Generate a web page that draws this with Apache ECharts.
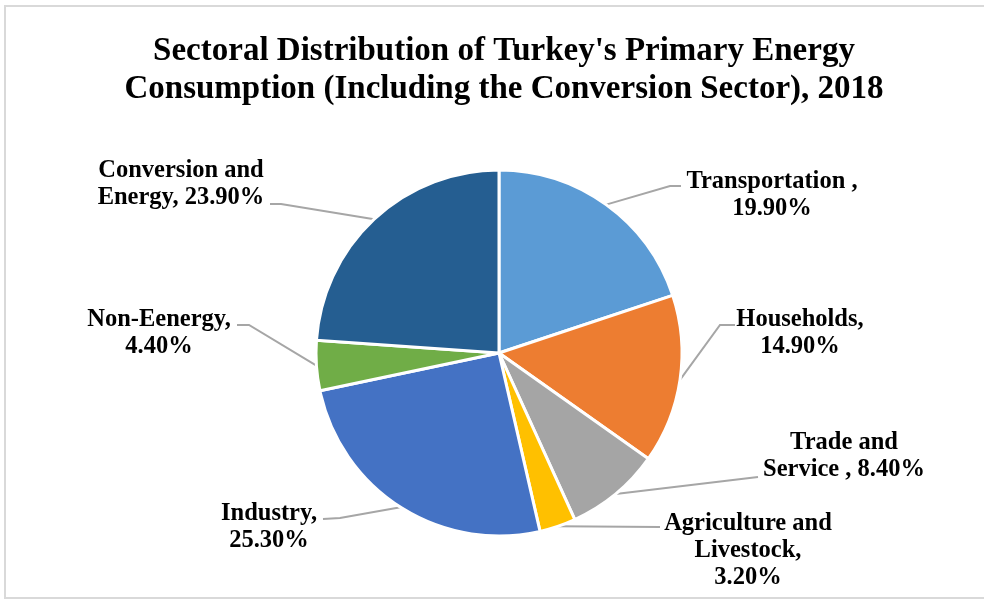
<!DOCTYPE html>
<html>
<head>
<meta charset="utf-8">
<script src="https://cdn.jsdelivr.net/npm/echarts@6/dist/echarts.min.js"></script>
<style>
  html, body { margin: 0; padding: 0; background: #fff; }
  #chart { width: 984px; height: 599px; }
</style>
</head>
<body>
<div id="chart"></div>
<script>
// Sectors of primary energy consumption, Turkey 2018 (share, %)
const sectors = ['Transportation', 'Households', 'Trade and Service', 'Agriculture and Livestock',
                 'Industry', 'Non-Eenergy', 'Conversion and Energy'];
const shares = [19.9, 14.9, 8.4, 3.2, 25.3, 4.4, 23.9];
// How each sector's label text is broken before the percentage
const labelPrefixes = ['Transportation ,\n', 'Households,\n', 'Trade and\nService , ',
                       'Agriculture and\nLivestock,\n', 'Industry,\n', 'Non-Eenergy,\n',
                       'Conversion and\nEnergy, '];
const sliceColors = ['#5B9BD5', '#ED7D31', '#A5A5A5', '#FFC000', '#4472C4', '#70AD47', '#255E91'];

// Label block placement: centre x, top y, leader elbow and end
const labelPlacement = [
  { x: 772, y: 168, elbow: [670, 186], end: [681, 186] },
  { x: 800, y: 306, elbow: [720, 325], end: [735, 325] },
  { x: 844, y: 429, elbow: null,       end: [758, 477] },
  { x: 748, y: 510, elbow: null,       end: [660, 527] },
  { x: 269, y: 500, elbow: [340, 518], end: [323, 519] },
  { x: 159, y: 306, elbow: [249, 325], end: [237, 325] },
  { x: 181, y: 157, elbow: [281, 204], end: [270, 204] }
];

const chart = echarts.init(document.getElementById('chart'), null, { renderer: 'canvas' });

const serif = '"Liberation Serif", "Times New Roman", serif';

chart.setOption({
  backgroundColor: '#ffffff',
  animation: false,
  title: {
    text: "Sectoral Distribution of Turkey's Primary Energy\nConsumption (Including the Conversion Sector), 2018",
    left: 499,
    textAlign: 'center',
    top: 27,
    textStyle: {
      fontFamily: serif,
      fontWeight: 'bold',
      fontSize: 33,
      lineHeight: 38,
      color: '#000000',
      align: 'center'
    }
  },
  graphic: [{
    type: 'rect',
    silent: true,
    shape: { x: 5, y: 6, width: 1000, height: 592 },
    style: { fill: 'none', stroke: '#d9d9d9', lineWidth: 2 }
  }],
  series: [{
    type: 'pie',
    center: [499, 353],
    radius: 183,
    startAngle: 90,
    clockwise: true,
    avoidLabelOverlap: false,
    data: sectors.map((name, i) => ({
      name: name,
      value: shares[i],
      itemStyle: { color: sliceColors[i] }
    })),
    itemStyle: { borderColor: '#ffffff', borderWidth: 3 },
    label: {
      show: true,
      position: 'outside',
      formatter: (p) => labelPrefixes[p.dataIndex] + p.value.toFixed(2) + '%',
      fontFamily: serif,
      fontWeight: 'bold',
      fontSize: 24.5,
      lineHeight: 27,
      color: '#000000',
      align: 'center'
    },
    labelLine: {
      show: true,
      length: 20,
      length2: 20,
      lineStyle: { color: '#a6a6a6', width: 2 }
    },
    labelLayout: (params) => {
      const p = labelPlacement[params.dataIndex];
      const start = params.labelLinePoints ? params.labelLinePoints[0] : p.end;
      const pts = p.elbow ? [start, p.elbow, p.end] : [start, p.end];
      return {
        x: p.x,
        y: p.y,
        align: 'center',
        verticalAlign: 'top',
        labelLinePoints: pts
      };
    },
    emphasis: { disabled: true }
  }]
});
</script>
</body>
</html>
